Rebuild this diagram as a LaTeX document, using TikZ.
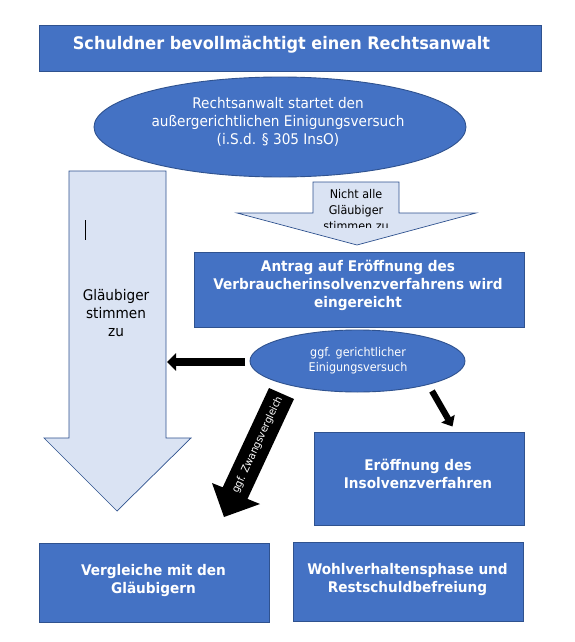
\documentclass[tikz,border=0pt]{standalone}
\usepackage{fontspec}
\setmainfont[FakeStretch=0.93]{DejaVu Sans}
\usetikzlibrary{arrows.meta,shapes.geometric}
\definecolor{bfill}{HTML}{4472C4}
\definecolor{bdraw}{HTML}{2F528F}
\definecolor{lfill}{HTML}{DAE3F3}
\newcommand\mlines[1]{\begin{tabular}[t]{@{}c@{}}#1\end{tabular}}
\tikzset{
  bluebox/.style={draw=bdraw, fill=bfill, line width=0.9pt, inner sep=0pt},
  lightarrow/.style={draw=bdraw, fill=lfill, line width=0.7pt},
  titletext/.style={font=\fontsize{17.3}{21}\selectfont\bfseries, text=white, inner sep=0pt, anchor=base},
  boldtext/.style={font=\fontsize{14.67}{18}\selectfont\bfseries, text=white, inner sep=0pt, anchor=base},
  elltext/.style={font=\fontsize{14.67}{18.3}\selectfont, text=white, inner sep=0pt, anchor=base},
  smalltext/.style={font=\fontsize{12}{15}\selectfont, text=white, inner sep=0pt, anchor=base},
  darktext/.style={font=\fontsize{12}{16}\selectfont, text=black, inner sep=0pt, anchor=base},
  bigtext/.style={font=\fontsize{14.67}{18.3}\selectfont, text=black, inner sep=0pt, anchor=base},
  zwangtext/.style={font=\fontsize{10.5}{12}\selectfont, text=white, inner sep=0pt},
  thickarrow/.style={draw=black, line width=7.3pt, -{Triangle[length=9pt,width=17pt]}},
  thickarrowb/.style={draw=black, line width=6.3pt, -{Triangle[length=9pt,width=15pt]}},
}
\begin{document}
\begin{tikzpicture}[x=1pt,y=-1pt]
\fill[white] (0,0) rectangle (575,642);
\useasboundingbox (0,0) rectangle (575,642);

% title box
\node[bluebox, minimum width=502pt, minimum height=46pt] (title) at (290,48) {};
\node[titletext] (titlet) at (281.5,50) {Schuldner bevollmächtigt einen Rechtsanwalt};

% ellipse 1
\node[bluebox, ellipse, minimum width=372pt, minimum height=100pt] (e1) at (280,127) {};
\node[elltext] (e1t) at (278,108.3) {\mlines{Rechtsanwalt startet den\\außergerichtlichen Einigungsversuch\\(i.S.d. § 305 InsO)}};

% big light arrow (Gläubiger stimmen zu)
\draw[lightarrow] (69,171) -- (166,171) -- (166,438) -- (191,438) -- (117,511) -- (44,438) -- (69,438) -- cycle;
\node[bigtext] (bigt) at (116,300) {\mlines{Gläubiger\\stimmen\\zu}};
\draw[line width=0.8pt] (85.3,220) -- (85.3,240);

% small light arrow (Nicht alle Gläubiger stimmen zu)
\draw[lightarrow] (313,182) -- (399,182) -- (399,213) -- (476,213) -- (357,245) -- (237,213) -- (313,213) -- cycle;
\begin{scope}
\clip (313,182) rectangle (399,227.7);
\node[darktext] (smallt) at (356,198.3) {\mlines{Nicht alle\\Gläubiger\\stimmen zu}};
\end{scope}

% Antrag box
\node[bluebox, minimum width=330pt, minimum height=75.5pt] (antrag) at (359,289.75) {};
\node[boldtext] (antragt) at (358,271.6) {\mlines{Antrag auf Eröffnung des\\Verbraucherinsolvenzverfahrens wird\\eingereicht}};

% ellipse 2
\node[bluebox, ellipse, minimum width=215pt, minimum height=62pt] (e2) at (357.5,361) {};
\node[smalltext] (e2t) at (358,356) {\mlines{ggf. gerichtlicher\\Einigungsversuch}};

% Eröffnung box
\node[bluebox, minimum width=210pt, minimum height=93pt] (eroeff) at (419,478.5) {};
\node[boldtext] (eroefft) at (418,470.5) {\mlines{Eröffnung des\\Insolvenzverfahren}};

% bottom boxes
\node[bluebox, minimum width=230pt, minimum height=79pt] (vergl) at (154,582.5) {};
\node[boldtext] (verglt) at (153.5,575) {\mlines{Vergleiche mit den\\Gläubigern}};
\node[bluebox, minimum width=230pt, minimum height=79pt] (wohl) at (408,581.5) {};
\node[boldtext] (wohlt) at (407.5,574) {\mlines{Wohlverhaltensphase und\\Restschuldbefreiung}};

% Zwangsvergleich block arrow
\fill[black] (269,388) -- (294,399) -- (247.5,498.9) -- (260,504) -- (224,517) -- (212,483) -- (222.7,487.3) -- cycle;
\node[zwangtext, rotate=65] (zwt) at (257.5,445) {ggf. Zwangsvergleich};

% thick black arrows
\coordinate (la1) at (245,362);
\coordinate (la2) at (167,362);
\draw[thickarrow] (la1) -- (la2);
\coordinate (ra1) at (432,391);
\coordinate (ra2) at (452.5,426.5);
\draw[thickarrowb] (ra1) -- (ra2);
\end{tikzpicture}
\end{document}
